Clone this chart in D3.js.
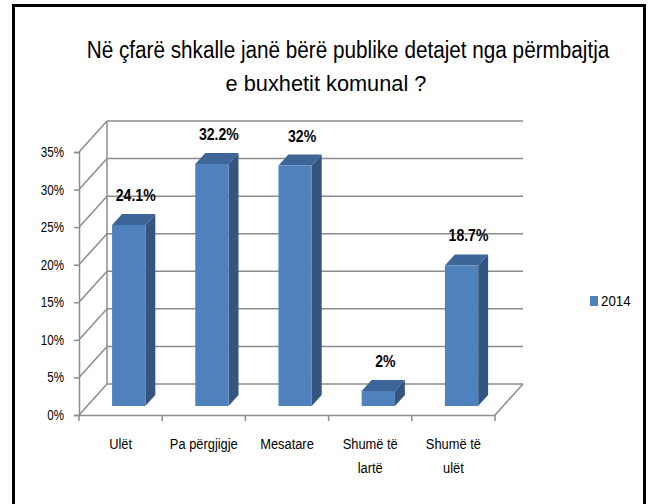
<!DOCTYPE html>
<html>
<head>
<meta charset="utf-8">
<script src="https://cdn.jsdelivr.net/npm/d3@7"></script>
<style>
  body { margin: 0; background: #fff; }
  svg { display: block; }
</style>
</head>
<body>
<svg id="chart"></svg>
<script>
const categories = ["Ulët", "Pa përgjigje", "Mesatare", "Shumë të lartë", "Shumë të ulët"];
const categoryLines = [["Ulët"], ["Pa përgjigje"], ["Mesatare"], ["Shumë të", "lartë"], ["Shumë të", "ulët"]];
const values2014 = [24.1, 32.2, 32, 2, 18.7];
const valueLabels = ["24.1%", "32.2%", "32%", "2%", "18.7%"];
const yTicks = [0, 5, 10, 15, 20, 25, 30, 35];
const seriesName = "2014";
const titleLines = ["Në çfarë shkalle janë bërë publike detajet nga përmbajtja", "e buxhetit komunal ?"];

const W = 649, H = 504;
const font = "'Liberation Sans', Arial, sans-serif";

// narrow the glyphs around their anchor, the original uses a condensed face
function squeeze(sel, k) {
  sel.each(function () {
    const ax = +d3.select(this).attr("x") || 0;
    d3.select(this).attr("transform", `translate(${ax},0) scale(${k},1) translate(${-ax},0)`);
  });
}
// squeeze so the text gets a given width
function fitWidth(sel, w) {
  sel.each(function () {
    const len = this.getComputedTextLength();
    d3.select(this).call(squeeze, w / len);
  });
}

const svg = d3.select("#chart").attr("width", W).attr("height", H);

// outer frame
svg.append("rect")
  .attr("x", 13.5).attr("y", 5.5)
  .attr("width", 631).attr("height", 520)
  .attr("fill", "#fff").attr("stroke", "#000").attr("stroke-width", 3);

// title
svg.append("text")
  .attr("x", 348).attr("y", 58)
  .attr("text-anchor", "middle")
  .style("font-family", font).style("font-size", "23px")
  .text(titleLines[0])
  .call(fitWidth, 523);
svg.append("text")
  .attr("x", 326).attr("y", 91)
  .attr("text-anchor", "middle")
  .style("font-family", font).style("font-size", "23px")
  .text(titleLines[1])
  .call(fitWidth, 201);

// front plane scales, depth offset goes up-right
const x = d3.scaleBand().domain(categories).range([79, 495]);
const y = d3.scaleLinear().domain([0, 35]).range([415, 152]);
const depthX = 28, depthY = 31;
const proj = (px, py, z) => [px + z * depthX, py - z * depthY];

const grid = svg.append("g").attr("stroke", "#8c8c8c").attr("stroke-width", 1.5).attr("fill", "none");

// back wall lines and left wall diagonals
yTicks.forEach((t) => {
  const [bx, by] = proj(x.range()[0], y(t), 1);
  const [ex] = proj(x.range()[1], y(t), 1);
  grid.append("line").attr("x1", bx).attr("y1", by).attr("x2", ex).attr("y2", by);
  grid.append("line").attr("x1", x.range()[0]).attr("y1", y(t)).attr("x2", bx).attr("y2", by);
});
// back wall left edge
grid.append("line")
  .attr("x1", x.range()[0] + depthX).attr("y1", y(0) - depthY)
  .attr("x2", x.range()[0] + depthX).attr("y2", y(35) - depthY);
// floor right edge
grid.append("line")
  .attr("x1", x.range()[1]).attr("y1", y(0))
  .attr("x2", x.range()[1] + depthX).attr("y2", y(0) - depthY);

// y axis
const yAxis = svg.append("g")
  .attr("transform", `translate(${x.range()[0]},0)`)
  .call(d3.axisLeft(y).tickValues(yTicks).tickSize(5).tickPadding(10).tickFormat((d) => d + "%"));
yAxis.selectAll("line, path").attr("stroke", "#8c8c8c").attr("stroke-width", 1.5);
yAxis.selectAll("text")
  .style("font-family", font).style("font-size", "14px").attr("fill", "#000")
  .call(squeeze, 0.83);

// x axis
const xAxis = svg.append("g")
  .attr("transform", `translate(0,${y(0)})`)
  .call(d3.axisBottom(x).tickSize(0).tickFormat(""));
xAxis.selectAll("path").attr("stroke", "#8c8c8c").attr("stroke-width", 1.5);
const bounds = categories.map((c) => x(c)).concat([x.range()[1]]);
xAxis.selectAll(".bound").data(bounds).enter().append("line")
  .attr("x1", (d) => d).attr("x2", (d) => d)
  .attr("y1", 0).attr("y2", 6)
  .attr("stroke", "#8c8c8c").attr("stroke-width", 1.5);

// category labels
categories.forEach((c, i) => {
  categoryLines[i].forEach((ln, j) => {
    svg.append("text")
      .attr("x", x(c) + x.bandwidth() / 2)
      .attr("y", 449 + j * 24)
      .attr("text-anchor", "middle")
      .style("font-family", font).style("font-size", "14px")
      .text(ln)
      .call(squeeze, 0.92);
  });
});

// 3d bars
const barW = x.bandwidth() * 0.4;
const z0 = 0.29, z1 = 0.645;
const bars = svg.append("g");
categories.forEach((c, i) => {
  const v = values2014[i];
  const left = x(c) + (x.bandwidth() - barW) / 2;
  const right = left + barW;
  const fBL = proj(left, y(0), z0), fBR = proj(right, y(0), z0);
  const fTL = proj(left, y(v), z0), fTR = proj(right, y(v), z0);
  const bTL = proj(left, y(v), z1), bTR = proj(right, y(v), z1);
  const bBR = proj(right, y(0), z1);
  const g = bars.append("g");
  g.append("path").attr("d", d3.line()([fTR, bTR, bBR, fBR])).attr("fill", "#33557f");
  g.append("path").attr("d", d3.line()([fTL, bTL, bTR, fTR])).attr("fill", "#3d6598");
  g.append("path").attr("d", d3.line()([fBL, fTL, fTR, fBR])).attr("fill", "#4f81bd");
  svg.append("text")
    .attr("x", (fTL[0] + fTR[0]) / 2 + 7)
    .attr("y", bTL[1] - 13)
    .attr("text-anchor", "middle")
    .style("font-family", font).style("font-size", "16px").style("font-weight", "bold")
    .text(valueLabels[i])
    .call(squeeze, 0.88);
});

// legend
svg.append("rect").attr("x", 590).attr("y", 296).attr("width", 8).attr("height", 10).attr("fill", "#4f81bd");
svg.append("text")
  .attr("x", 601).attr("y", 306)
  .style("font-family", font).style("font-size", "14px")
  .text(seriesName)
  .call(squeeze, 0.95);
</script>
</body>
</html>
